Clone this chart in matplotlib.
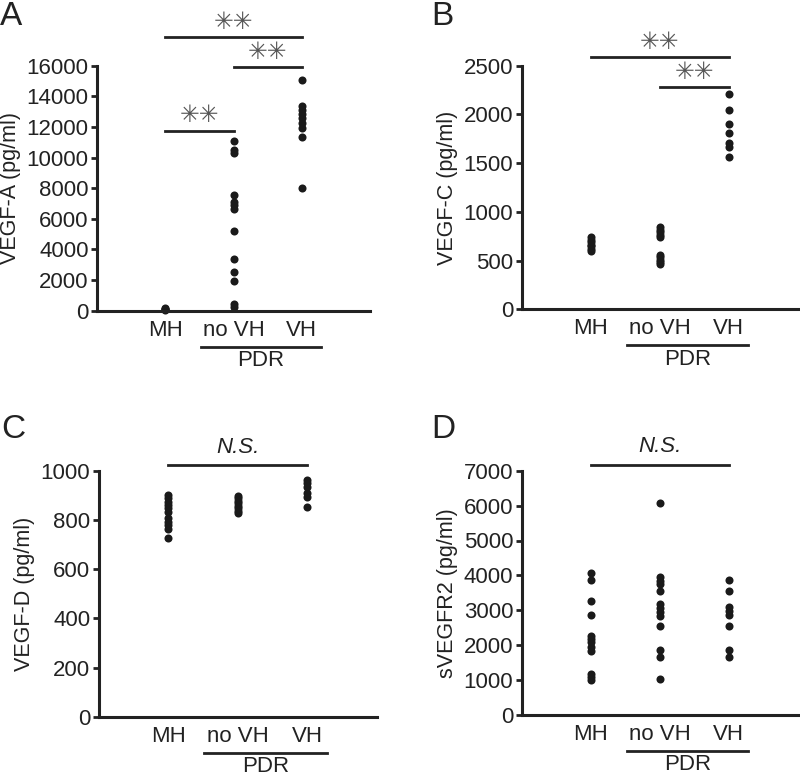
import matplotlib
matplotlib.use("Agg")
import matplotlib.pyplot as plt

plt.rcParams['font.family'] = ['Liberation Sans', 'DejaVu Sans']

groups = ["MH", "no VH", "VH"]

# VEGF-A (pg/ml)
vegfa_mh = [60, 100, 130, 160]
vegfa_novh = [11100, 10490, 10275, 7575, 7100, 6900, 6660, 5225, 3350, 2550, 1940, 415, 260]
vegfa_vh = [15065, 13390, 13100, 12820, 12560, 12280, 11910, 11365, 7990]

# VEGF-C (pg/ml)
vegfc_mh = [600, 620, 645, 665, 690, 715, 740]
vegfc_novh = [840, 815, 790, 765, 745, 560, 535, 510, 490, 465]
vegfc_vh = [2209, 2042, 1901, 1806, 1703, 1669, 1560]

# VEGF-D (pg/ml)
vegfd_mh = [902, 889, 875, 862, 848, 834, 810, 794, 780, 763, 729]
vegfd_novh = [898, 889, 879, 868, 859, 848, 839, 828]
vegfd_vh = [963, 950, 936, 909, 895, 855]

# sVEGFR2 (pg/ml)
svegfr2_mh = [4078, 3868, 3276, 2865, 2273, 2177, 2082, 1958, 1843, 1184, 1089, 993]
svegfr2_novh = [6074, 3944, 3849, 3744, 3562, 3180, 3075, 2961, 2846, 2550, 1862, 1671, 1022]
svegfr2_vh = [3868, 3553, 3104, 2989, 2865, 2560, 1862, 1671]

panels = [
    ("A", "VEGF-A (pg/ml)", [vegfa_mh, vegfa_novh, vegfa_vh], 16000, 2000,
     [(1, 3, 17870, "✳✳"), (2, 3, 15900, "✳✳"), (1, 2, 11760, "✳✳")]),
    ("B", "VEGF-C (pg/ml)", [vegfc_mh, vegfc_novh, vegfc_vh], 2500, 500,
     [(1, 3, 2586, "✳✳"), (2, 3, 2278, "✳✳")]),
    ("C", "VEGF-D (pg/ml)", [vegfd_mh, vegfd_novh, vegfd_vh], 1000, 200,
     [(1, 3, 1024, "N.S.")]),
    ("D", "sVEGFR2 (pg/ml)", [svegfr2_mh, svegfr2_novh, svegfr2_vh], 7000, 1000,
     [(1, 3, 7162, "N.S.")]),
]

# axes boxes in pixels: left, top, right, bottom
W, H = 800, 776
boxes = [(97, 65.7, 370, 310.7), (521.7, 65.7, 797.7, 309.3),
         (98.7, 471, 376.7, 716.7), (521.7, 470.7, 797.7, 715)]
letter_pos = [(0, 25), (431, 25), (1, 438), (431, 438)]

INK = '#222222'
fig = plt.figure(figsize=(8, 7.76), dpi=100)

for (letter, ylabel, data, ymax, ystep, sigs), box, lp in zip(panels, boxes, letter_pos):
    l, t, r, b = box
    h = b - t
    ax = fig.add_axes([l / W, 1 - b / H, (r - l) / W, h / H])
    for i, vals in enumerate(data):
        ax.plot([i + 1] * len(vals), vals, 'o', color='#1a1a1a', ms=5.8,
                mec='none', clip_on=False)
    ax.set_xlim(0, 4)
    ax.set_ylim(0, ymax)
    ax.set_yticks(range(0, ymax + 1, ystep))
    ax.set_xticks([])
    for s in ['top', 'right']:
        ax.spines[s].set_visible(False)
    for s in ['left', 'bottom']:
        ax.spines[s].set_linewidth(2.2)
        ax.spines[s].set_color(INK)
    ax.tick_params(axis='y', direction='out', length=4, width=2, labelsize=16,
                   colors=INK, pad=2)
    ax.set_ylabel(ylabel, fontsize=15.5, color=INK, labelpad=4)

    # group labels under the x axis
    xt = ax.get_xaxis_transform()
    for i, g in enumerate(groups):
        ax.text(i + 1, -19.5 / h, g, transform=xt, ha='center', va='center',
                fontsize=16, color=INK)
    ax.plot([1.52, 3.28], [-36 / h] * 2, color=INK, lw=2, transform=xt,
            clip_on=False)
    ax.text(2.4, -50 / h, "PDR", transform=xt, ha='center', va='center',
            fontsize=16, color=INK)

    # significance bars
    for x0, x1, y, label in sigs:
        ax.plot([x0, x1], [y, y], color=INK, lw=2, clip_on=False)
        if label == "N.S.":
            ax.annotate(label, xy=((x0 + x1) / 2, y), xytext=(0, 13),
                        textcoords='offset points', ha='center', va='center',
                        fontsize=16, style='italic', color=INK,
                        annotation_clip=False)
        else:
            ax.annotate(label, xy=((x0 + x1) / 2, y), xytext=(0, 11),
                        textcoords='offset points', ha='center', va='center',
                        fontsize=17, color='#555555', family='DejaVu Sans',
                        annotation_clip=False)

    fig.text(lp[0] / W, 1 - lp[1] / H, letter, fontsize=24, color=INK,
             ha='left', va='baseline')

fig.savefig("out.png", dpi=100)
